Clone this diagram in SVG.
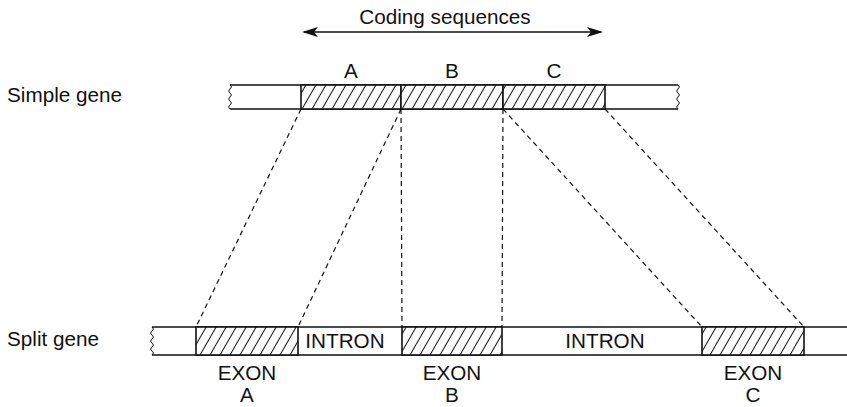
<svg xmlns="http://www.w3.org/2000/svg" width="847" height="407" viewBox="0 0 847 407">
  <style>
    text { font-family: "Liberation Sans", Arial, sans-serif; font-size: 20.7px; fill: #111; }
    .mid { text-anchor: middle; }
    .bar { fill: #fff; }
    .edge { fill: none; stroke: #111; stroke-width: 1.6; }
    .exon { fill: url(#hatch); stroke: #111; stroke-width: 1.6; }
    .wave { fill: none; stroke: #111; stroke-width: 1; }
    .dash { fill: none; stroke: #111; stroke-width: 1.2; stroke-dasharray: 5 4; }
    .arrow { fill: none; stroke: #111; stroke-width: 1.5; marker-start: url(#head); marker-end: url(#head); }
  </style>
  <defs>
    <!-- diagonal hatching for coding regions -->
    <pattern id="hatch" patternUnits="userSpaceOnUse" width="8.66" height="10" patternTransform="rotate(30)">
      <rect width="8.66" height="10" fill="#fff"/>
      <path d="M4.3,-1 V11" stroke="#111" stroke-width="1"/>
    </pattern>
    <marker id="head" viewBox="0 0 16 10" refX="14" refY="5" markerWidth="16" markerHeight="10" markerUnits="userSpaceOnUse" orient="auto-start-reverse">
      <path d="M0,0 L16,5 L0,10 L4,5 Z" fill="#111"/>
    </marker>
  </defs>

  <!-- header arrow -->
  <g id="coding-sequences">
    <text class="mid" x="445" y="24">Coding sequences</text>
    <line class="arrow" x1="304" y1="32" x2="601" y2="32"/>
  </g>

  <!-- simple gene -->
  <g id="simple-gene">
    <text x="7" y="102">Simple gene</text>
    <rect class="bar" x="230" y="85" width="448" height="24"/>
    <path class="edge" d="M230,85 H678 M230,109 H678"/>
    <rect class="exon" x="301" y="85" width="100" height="24"/>
    <rect class="exon" x="401" y="85" width="102" height="24"/>
    <rect class="exon" x="503" y="85" width="102" height="24"/>
    <path class="wave" d="M230,85 q3,2 0,4 q-3,2 0,4 q3,2 0,4 q-3,2 0,4 q3,2 0,4 q-3,2 0,4"/>
    <path class="wave" d="M678,85 q3,2 0,4 q-3,2 0,4 q3,2 0,4 q-3,2 0,4 q3,2 0,4 q-3,2 0,4"/>
    <text class="mid" x="351" y="78">A</text>
    <text class="mid" x="452" y="78">B</text>
    <text class="mid" x="554" y="78">C</text>
  </g>

  <!-- split gene -->
  <g id="split-gene">
    <text x="7" y="346">Split gene</text>
    <rect class="bar" x="152" y="327" width="700" height="28"/>
    <path class="edge" d="M152,327 H847 M152,355 H847"/>
    <path class="wave" d="M152,327 q3,2 0,4 q-3,2 0,4 q3,2 0,4 q-3,2 0,4 q3,2 0,4 q-3,2 0,4 q3,2 0,4"/>
    <rect class="exon" x="196" y="327" width="102" height="28"/>
    <rect class="exon" x="402" y="327" width="100" height="28"/>
    <rect class="exon" x="702" y="327" width="102" height="28"/>
    <text class="mid" x="345" y="348">INTRON</text>
    <text class="mid" x="605" y="348">INTRON</text>
    <text class="mid" x="247" y="380">EXON</text>
    <text class="mid" x="247" y="402">A</text>
    <text class="mid" x="452" y="380">EXON</text>
    <text class="mid" x="452" y="402">B</text>
    <text class="mid" x="753" y="380">EXON</text>
    <text class="mid" x="753" y="402">C</text>
  </g>

  <!-- dashed correspondence lines -->
  <g id="connectors">
    <line class="dash" x1="301" y1="109" x2="196" y2="327"/>
    <line class="dash" x1="401" y1="109" x2="298" y2="327"/>
    <line class="dash" x1="401" y1="109" x2="402" y2="327"/>
    <line class="dash" x1="503" y1="109" x2="502" y2="327"/>
    <line class="dash" x1="503" y1="109" x2="702" y2="327"/>
    <line class="dash" x1="605" y1="109" x2="804" y2="327"/>
  </g>
</svg>
